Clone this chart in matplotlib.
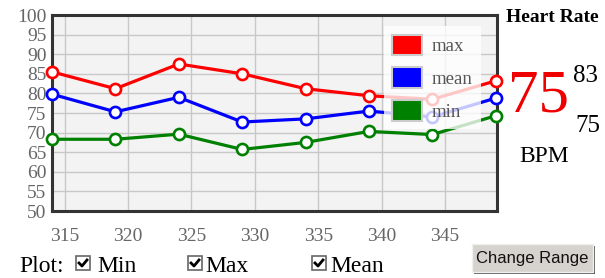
import matplotlib
matplotlib.use("Agg")
import matplotlib.pyplot as plt
from matplotlib.patches import Rectangle, Patch
from matplotlib.lines import Line2D

# data (minutes vs heart rate)
minutes = [314, 319, 324, 329, 334, 339, 344, 349]
max_hr = [85.5, 81.2, 87.5, 85.0, 81.2, 79.4, 78.5, 83.2]
mean_hr = [79.8, 75.3, 79.0, 72.7, 73.5, 75.5, 74.0, 78.8]
min_hr = [68.3, 68.3, 69.6, 65.7, 67.5, 70.3, 69.5, 74.3]
y_ticks = list(range(50, 101, 5))
x_ticks = [315, 320, 325, 330, 335, 340, 345]
series = [("max", max_hr, "#ff0000"), ("mean", mean_hr, "#0000ff"), ("min", min_hr, "#008000")]

plt.rcParams["font.family"] = ["Liberation Serif", "DejaVu Serif"]

W, H = 605, 278
fig = plt.figure(figsize=(W / 100, H / 100), dpi=100)
fig.patch.set_facecolor("white")


def fx(x):
    return x / W


def fy(y):
    return 1 - y / H


ax = fig.add_axes([fx(52), fy(211), fx(497) - fx(52), fy(15) - fy(211)])
ax.set_facecolor("#f3f3f3")

for name, vals, col in series:
    ax.plot(minutes, vals, color=col, lw=2.3, marker="o", ms=8, mfc="white",
            mec=col, mew=1.9, clip_on=False, zorder=3)

ax.set_xlim(314, 349.1)
ax.set_ylim(50, 100)
ax.set_yticks(y_ticks)
ax.set_xticks(x_ticks)
ax.tick_params(axis="y", length=0, pad=4, labelsize=14, labelcolor="#666666")
ax.tick_params(axis="x", length=0, pad=12, labelsize=14, labelcolor="#666666")
ax.grid(True, color="#c8c8c8", lw=1)
ax.set_axisbelow(True)
for s in ax.spines.values():
    s.set_color("#333333")
    s.set_linewidth(2.2)

handles = [Patch(facecolor=c, edgecolor="#cccccc", lw=1.5, label=n) for n, _, c in series]
leg = ax.legend(handles=handles, loc="upper right", bbox_to_anchor=(0.985, 0.99),
                fontsize=13.5, handlelength=1.6, handleheight=1.3, labelspacing=0.65,
                frameon=True, framealpha=0.78, edgecolor="none", fancybox=False,
                borderpad=0.45, handletextpad=0.5)
leg.get_frame().set_facecolor("white")
leg.set_zorder(4)
for t in leg.get_texts():
    t.set_color("#555555")

# right side readout
fig.text(fx(552), fy(18), "Heart Rate", fontsize=14, fontweight="bold", ha="center", va="center")
fig.text(fx(539), fy(97), "75", fontsize=44, color="#ee0000", ha="center", va="center")
fig.text(fx(586), fy(76), "83", fontsize=18, ha="center", va="center")
fig.text(fx(588), fy(126), "75", fontsize=18, ha="center", va="center")
fig.text(fx(544), fy(157), "BPM", fontsize=17, ha="center", va="center")

# bottom controls
fig.text(fx(19), fy(267), "Plot:", fontsize=17, ha="left", va="center")


def checkbox(x, y):
    fig.patches.append(Rectangle((fx(x), fy(y + 14)), fx(14), 14 / H, transform=fig.transFigure,
                                 facecolor="white", edgecolor="#666666", lw=1.2))
    fig.lines.append(Line2D([fx(x + 3), fx(x + 6), fx(x + 11)], [fy(y + 7), fy(y + 10), fy(y + 4)],
                            transform=fig.transFigure, color="black", lw=2))


for bx, tx, label in [(76, 97, "Min"), (188, 205, "Max"), (312, 330, "Mean")]:
    checkbox(bx, 256)
    fig.text(fx(tx), fy(267), label, fontsize=17, ha="left", va="center")

# button
fig.patches.append(Rectangle((fx(474), fy(274)), fx(121), 28 / H, transform=fig.transFigure,
                             facecolor="#555555", edgecolor="none"))
fig.patches.append(Rectangle((fx(472), fy(272)), fx(121), 28 / H, transform=fig.transFigure,
                             facecolor="#d6d3ce", edgecolor="#f0f0f0", lw=1))
fig.text(fx(532), fy(258), "Change Range", fontsize=12, family="Liberation Sans",
         ha="center", va="center", color="#111111")

fig.savefig("out.png", dpi=100)
